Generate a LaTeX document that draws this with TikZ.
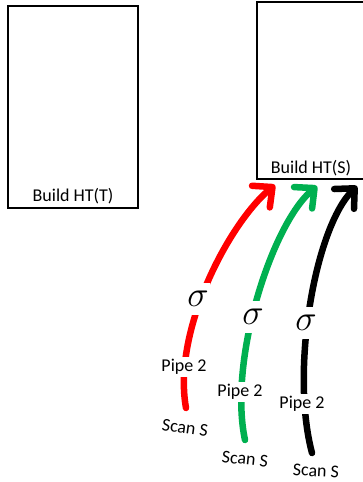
\RequirePackage{fix-cm}
\documentclass[tikz,border=0pt]{standalone}
\usepackage{fontspec}
\setmainfont{Carlito}
\usetikzlibrary{arrows.meta,calc}
\definecolor{offgreen}{RGB}{0,176,80}
\begin{document}
\begin{tikzpicture}[x=1pt,y=-1pt,
  box/.style={draw, line width=2pt, inner sep=0pt, anchor=north west},
  lbl/.style={font=\fontsize{18}{20}\selectfont, inner sep=1pt},
  sig/.style={font=\fontsize{36}{40}\selectfont, fill=white, inner xsep=1pt, inner ysep=8pt},
  pipe/.style={font=\fontsize{18}{20}\selectfont, fill=white, inner xsep=1pt, inner ysep=2pt},
  flow/.style={line width=6.5pt, line cap=round, -{Straight Barb[length=15pt,width=28pt,round]}}]
\useasboundingbox (0,0) rectangle (362,482);
% boxes
\node[box, minimum width=130pt, minimum height=202pt] (ht) at (7,5) {};
\node[lbl] (htl) at ($(ht.south)+(0,-12.5)$) {Build HT(T)};
\node[box, minimum width=108pt, minimum height=177pt] (hs) at (256,1) {};
\node[lbl] (hsl) at ($(hs.south)+(0,-12)$) {Build HT(S)};
% arrow end points on box
\coordinate (re) at (275,185);
\coordinate (ge) at (317,186);
\coordinate (be) at (357,186);
% arrow start points
\coordinate (rs) at (186,408);
\coordinate (gs) at (245,440);
\coordinate (bs) at (312,453);
% arrows
\draw[flow, red] (rs) .. controls (172,330) and (230,222) .. (re);
\draw[flow, offgreen] (gs) .. controls (228,360) and (272,224) .. (ge);
\draw[flow, black] (bs) .. controls (290,370) and (315,228) .. (be);
% labels
\node[sig] (rsig) at (198,299) {$\sigma$};
\node[sig] (gsig) at (253,317) {$\sigma$};
\node[sig] (bsig) at (306,323) {$\sigma$};
\node[pipe] (rp) at (184,367) {Pipe 2};
\node[pipe] (gp) at (240,392) {Pipe 2};
\node[pipe] (bp) at (302,404) {Pipe 2};
\node[lbl, rotate=-8] (rscan) at (185,428) {Scan S};
\node[lbl, rotate=-6] (gscan) at (245,459) {Scan S};
\node[lbl, rotate=-3] (bscan) at (316,471) {Scan S};
\end{tikzpicture}
\end{document}
